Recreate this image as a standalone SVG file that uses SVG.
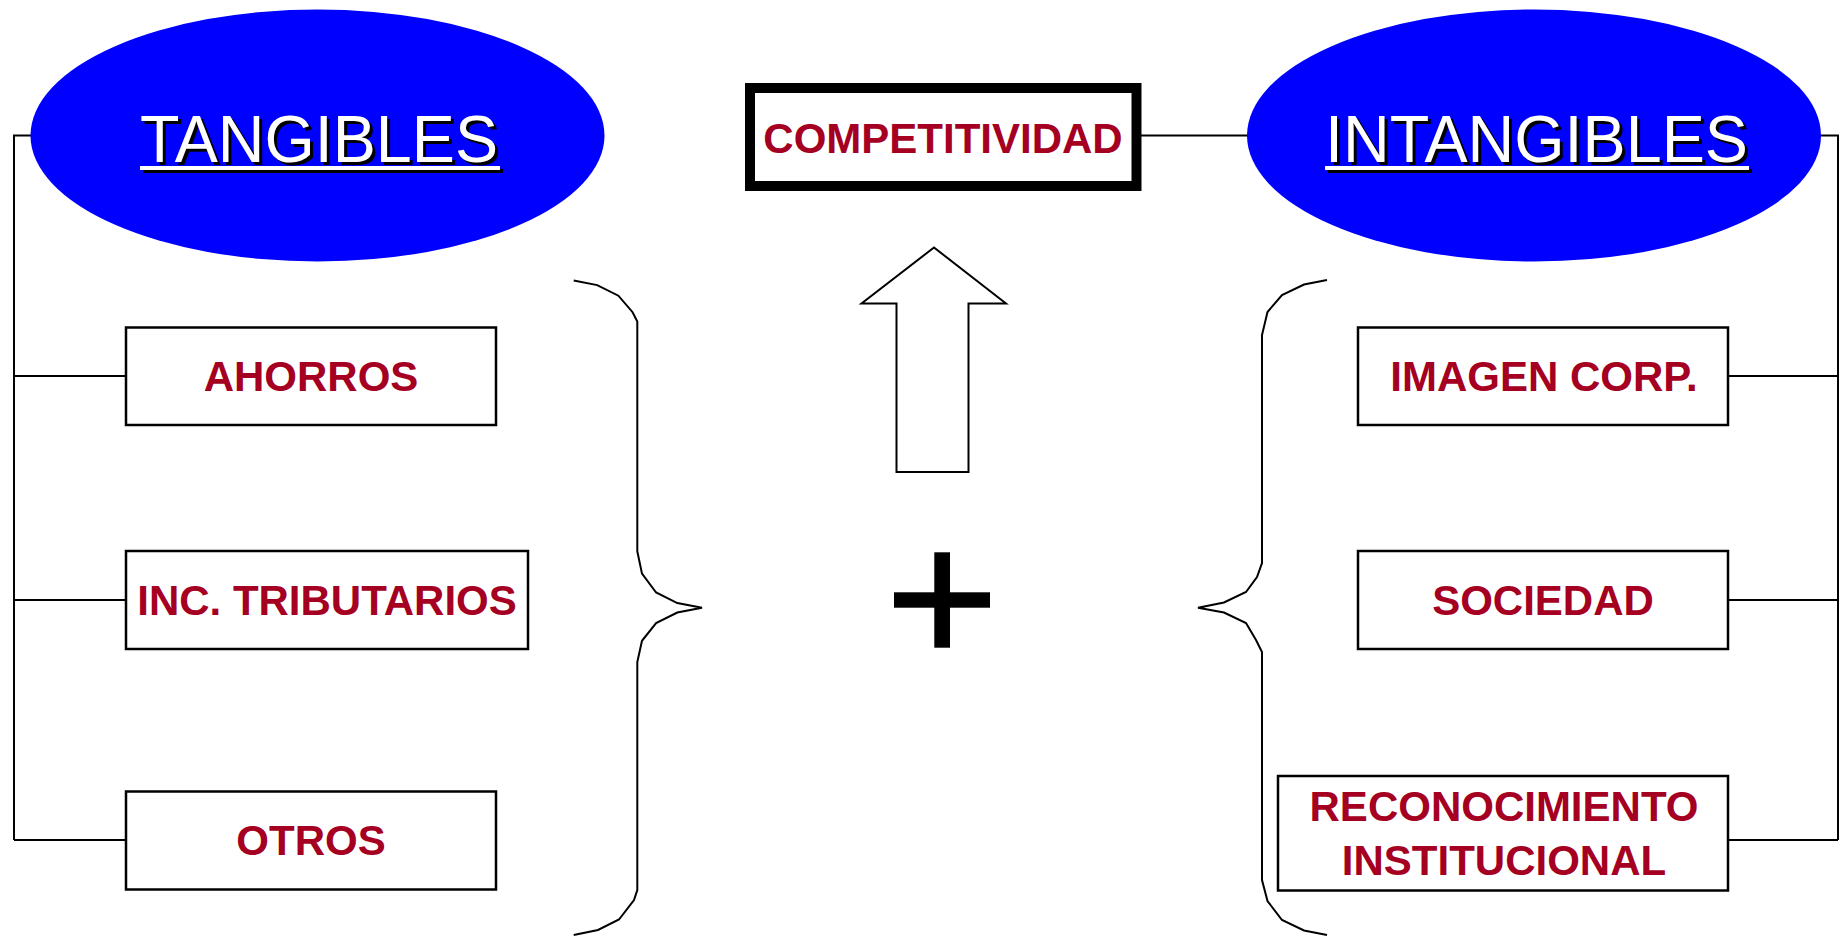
<svg xmlns="http://www.w3.org/2000/svg" width="1847" height="936" viewBox="0 0 1847 936">
<style>
.ell{fill:#0000FF;stroke:none}
.box{fill:#FFFFFF;stroke:#000000;stroke-width:2.5}
.lbl{font-family:"Liberation Sans",Arial,sans-serif;font-weight:bold;font-size:42px;fill:#A50021;text-anchor:middle}
.big{font-family:"Liberation Sans",Arial,sans-serif;font-size:67px}
.wht{fill:#FFFFFF}
.shd{fill:#000000}
.ln{fill:none;stroke:#000000;stroke-width:2}
</style>
<rect width="1847" height="936" fill="#FFFFFF"/>
<g id="connectors">
<polyline class="ln" points="31,135.5 14,135.5 14,840"/>
<line class="ln" x1="14" y1="376" x2="126" y2="376"/>
<line class="ln" x1="14" y1="600" x2="126" y2="600"/>
<line class="ln" x1="14" y1="840" x2="126" y2="840"/>
<polyline class="ln" points="1820,135.5 1838,135.5 1838,840"/>
<line class="ln" x1="1728" y1="376" x2="1838" y2="376"/>
<line class="ln" x1="1728" y1="600" x2="1838" y2="600"/>
<line class="ln" x1="1728" y1="840" x2="1838" y2="840"/>
<line class="ln" x1="1141" y1="135.5" x2="1248" y2="135.5"/>
</g>
<g id="tangibles">
<ellipse class="ell" cx="317.5" cy="135.5" rx="287" ry="126"/>
<text class="big shd" x="143" y="164.5" textLength="358" lengthAdjust="spacingAndGlyphs">TANGIBLES</text>
<rect class="shd" x="143" y="169" width="360" height="4"/>
<text class="big wht" x="140" y="161.5" textLength="358" lengthAdjust="spacingAndGlyphs">TANGIBLES</text>
<rect class="wht" x="140" y="166" width="360" height="4"/>
</g>
<g id="intangibles">
<ellipse class="ell" cx="1534" cy="135.5" rx="287" ry="126"/>
<text class="big shd" x="1328" y="164.5" textLength="423" lengthAdjust="spacingAndGlyphs">INTANGIBLES</text>
<rect class="shd" x="1328" y="169" width="424" height="4"/>
<text class="big wht" x="1325" y="161.5" textLength="423" lengthAdjust="spacingAndGlyphs">INTANGIBLES</text>
<rect class="wht" x="1325" y="166" width="424" height="4"/>
</g>
<g id="competitividad">
<rect x="750" y="88" width="386.5" height="98" fill="#FFFFFF" stroke="#000000" stroke-width="10"/>
<text class="lbl" x="943" y="153">COMPETITIVIDAD</text>
</g>
<g id="arrow">
<polygon points="934,247.5 861.5,303.5 896.5,303.5 896.5,472 968.5,472 968.5,303.5 1006,303.5" fill="#FFFFFF" stroke="#000000" stroke-width="2"/>
</g>
<g id="plus">
<rect x="934.3" y="552.3" width="15.7" height="95.4" fill="#000000"/>
<rect x="894" y="592.3" width="96" height="15.4" fill="#000000"/>
</g>
<g id="brace-left">
<polyline class="ln" points="573.7,280.4 597.2,285.1 618.4,295.7 632.6,312.2 637.3,321.6 637.3,551.3 642,573.7 656.1,592.5 677.3,603.1 702,607.8 677.3,612.5 656.1,623.1 642,640.8 637.3,662 637.3,890 634,900 619,919.5 598,930 573.7,935"/>
</g>
<g id="brace-right">
<polyline class="ln" points="1327,280 1304,284.5 1282,295 1267.5,312 1262,335 1262,563 1257,577 1246,592 1224,602.5 1198,607.8 1224,612.5 1246,623 1256,640 1262,652 1262,880 1267.5,901 1282,920 1304,930.5 1327,935"/>
</g>
<g id="ahorros">
<rect class="box" x="126" y="327.5" width="370" height="97.5"/>
<text class="lbl" x="311" y="391">AHORROS</text>
</g>
<g id="inc-tributarios">
<rect class="box" x="126" y="551" width="402" height="98"/>
<text class="lbl" x="327" y="615">INC. TRIBUTARIOS</text>
</g>
<g id="otros">
<rect class="box" x="126" y="791.5" width="370" height="98"/>
<text class="lbl" x="311" y="855">OTROS</text>
</g>
<g id="imagen-corp">
<rect class="box" x="1358" y="327.5" width="370" height="97.5"/>
<text class="lbl" x="1544" y="391">IMAGEN CORP.</text>
</g>
<g id="sociedad">
<rect class="box" x="1358" y="551" width="370" height="98"/>
<text class="lbl" x="1543" y="615">SOCIEDAD</text>
</g>
<g id="reconocimiento">
<rect class="box" x="1278" y="776" width="450" height="114.5"/>
<text class="lbl" x="1504" y="821">RECONOCIMIENTO</text>
<text class="lbl" x="1504" y="875">INSTITUCIONAL</text>
</g>
</svg>
